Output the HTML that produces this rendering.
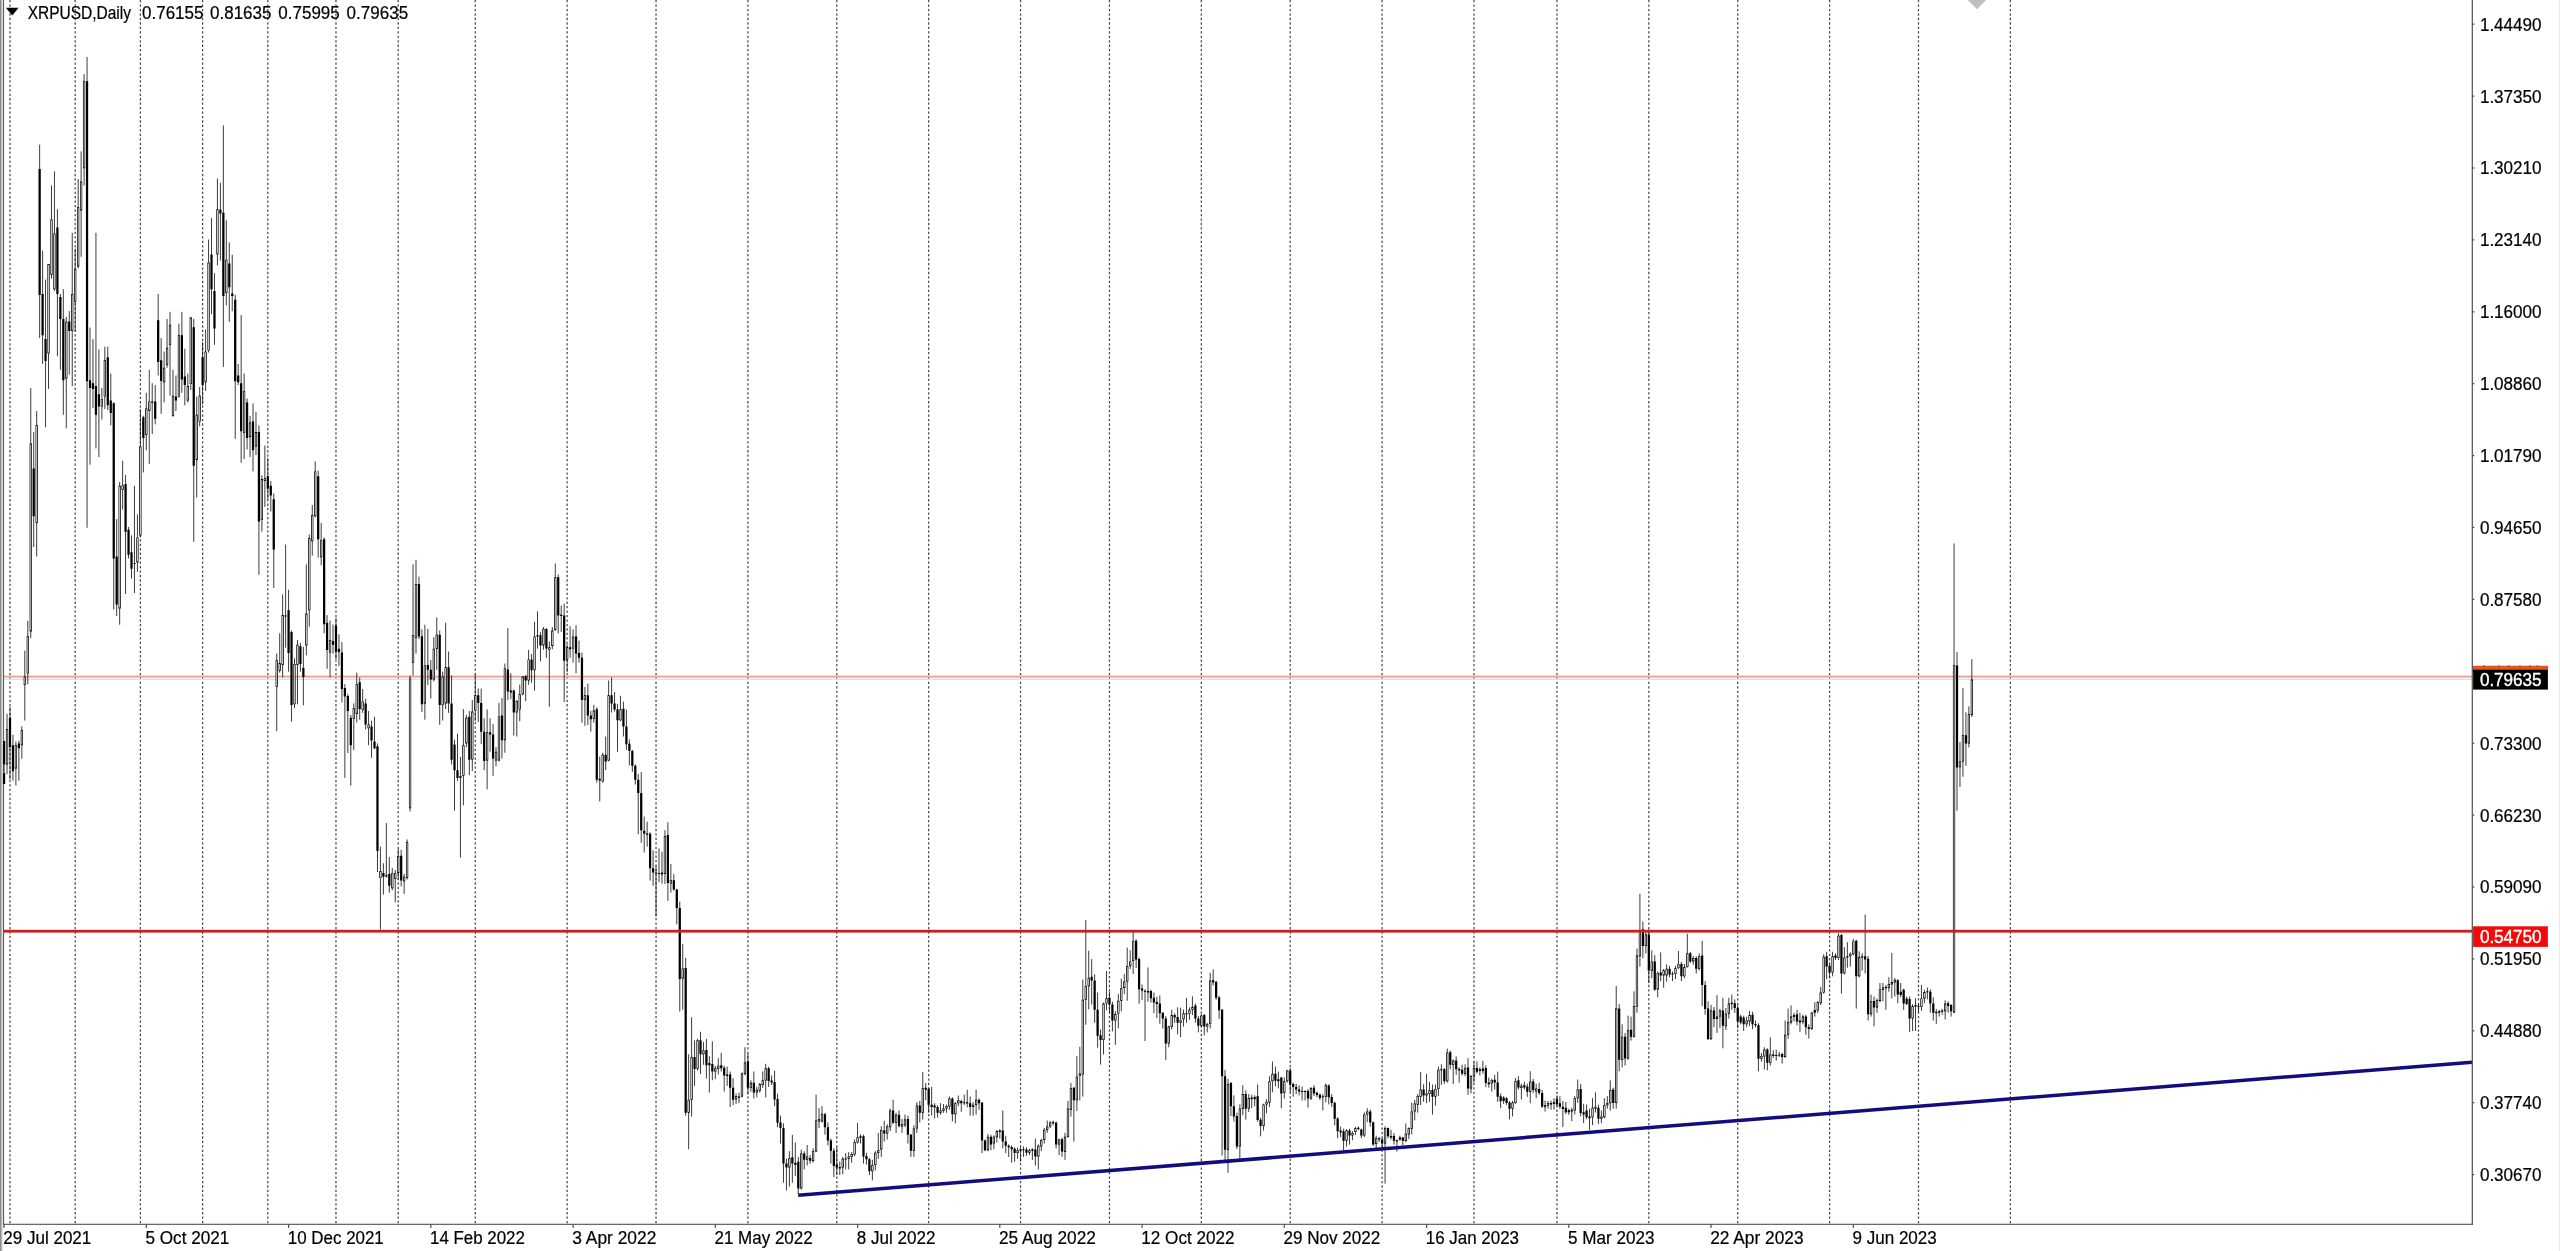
<!DOCTYPE html><html><head><meta charset="utf-8"><title>XRPUSD,Daily</title><style>html,body{margin:0;padding:0;background:#fff;}body{width:2560px;height:1251px;overflow:hidden;font-family:"Liberation Sans",sans-serif;}svg{display:block;position:absolute;left:0;top:0;}text{font-family:"Liberation Sans",sans-serif;font-size:17.5px;fill:#000;stroke:#000;stroke-width:0.22px;}</style></head><body>
<svg width="2560" height="1251" viewBox="0 0 2560 1251">
<rect width="2560" height="1251" fill="#fff"/>
<rect x="0" y="0" width="1" height="1251" fill="#8c8c8c"/><rect x="1" y="0" width="1" height="1251" fill="#b8b8b8"/><rect x="2" y="0" width="1" height="1251" fill="#dfdfdf"/><rect x="3.0" y="0" width="1.0" height="1225" fill="#5e5e5e"/><rect x="4.0" y="0" width="0.5" height="1224" fill="#e4e4e4"/>
<rect x="2558.8" y="0" width="1.2" height="1251" fill="#ececec"/>
<path d="M10.0 0V1224.3M75.19 0V1224.3M140.39 0V1224.3M202.62 0V1224.3M267.82 0V1224.3M335.98 0V1224.3M398.22 0V1224.3M475.27 0V1224.3M567.13 0V1224.3M656.04 0V1224.3M747.91 0V1224.3M836.81 0V1224.3M928.68 0V1224.3M1020.55 0V1224.3M1109.46 0V1224.3M1201.32 0V1224.3M1290.23 0V1224.3M1382.1 0V1224.3M1473.97 0V1224.3M1556.94 0V1224.3M1648.81 0V1224.3M1737.72 0V1224.3M1829.59 0V1224.3M1918.49 0V1224.3M2010.36 0V1224.3" stroke="#484848" stroke-width="1.25" stroke-dasharray="2.3 2.156" stroke-dashoffset="-0.05" fill="none"/>
<rect x="4" y="675.7" width="2468.3" height="1.8" fill="#e6a194"/>
<rect x="4" y="678.5" width="2468.3" height="1.6" fill="#dce4df"/>
<defs><filter id="sb" x="0" y="0" width="100%" height="100%" filterUnits="userSpaceOnUse"><feGaussianBlur stdDeviation="0.38"/></filter></defs>
<g filter="url(#sb)">
<path d="M4.07 740.9V784.1M7.03 713.9V774.1M10.00 707.2V779.4M12.96 734.8V780.8M15.92 741.5V785.6M18.89 740.6V780.8M21.85 726.4V758.8M24.81 650.6V720.6M27.78 620.9V684.2M30.74 388.0V638.1M33.70 432.1V547.0M36.67 411.0V556.6M39.63 144.6V338.1M42.60 250.6V364.0M45.56 279.6V427.3M48.52 264.1V388.9M51.49 185.4V278.6M54.45 171.4V291.1M57.41 209.2V356.3M60.38 294.0V369.8M63.34 289.2V414.8M66.30 317.0V428.3M69.27 311.2V374.6M72.23 232.8V386.1M75.19 248.7V331.4M78.16 179.1V268.3M81.12 151.3V256.8M84.08 74.1V185.4M87.05 56.9V527.8M90.01 327.6V464.7M92.97 339.1V408.1M95.94 232.8V448.4M98.90 349.6V457.1M101.87 388.0V419.6M104.83 346.7V409.1M107.79 346.7V410.0M110.76 373.6V425.4M113.72 402.4V609.4M116.68 519.2V616.1M119.65 482.0V624.7M122.61 460.9V509.6M125.57 474.9V594.0M128.54 526.9V558.5M131.50 535.5V578.7M134.46 485.8V593.0M137.43 514.4V571.9M140.39 409.1V537.4M143.35 415.8V472.4M146.32 392.8V450.3M149.28 369.8V463.8M152.24 383.2V434.0M155.21 385.1V424.4M158.17 294.0V375.5M161.14 338.1V413.9M164.10 351.5V402.4M167.06 318.9V367.8M170.03 311.8V395.7M172.99 369.8V416.8M175.95 375.5V411.0M178.92 323.7V397.6M181.88 311.8V392.8M184.84 348.7V405.3M187.81 373.6V402.4M190.77 317.0V389.9M193.73 318.9V541.8M196.70 396.6V497.3M199.66 387.0V426.4M202.62 341.9V404.3M205.59 329.5V390.9M208.55 239.5V352.5M211.51 218.0V314.1M214.48 273.1V344.8M217.44 178.5V265.4M220.41 182.9V260.6M223.37 125.4V366.9M226.33 220.3V305.5M229.30 242.4V321.8M232.26 254.9V311.2M235.22 294.9V438.8M238.19 364.0V385.1M241.15 315.1V462.8M244.11 373.6V459.0M247.08 398.5V449.4M250.04 415.8V457.1M253.00 403.3V471.4M255.97 412.0V455.1M258.93 425.4V574.8M261.89 475.3V531.7M264.86 445.5V506.9M267.82 458.0V499.3M270.78 481.0V511.5M273.75 493.5V587.9M276.71 653.5V731.2M279.68 633.3V672.7M282.64 594.4V677.5M285.60 544.5V647.7M288.57 589.8V671.7M291.53 630.5V721.6M294.49 658.3V708.2M297.46 640.0V704.3M300.42 642.9V671.7M303.38 646.8V705.3M306.35 564.3V655.4M309.31 534.5V626.6M312.27 505.0V555.6M315.24 461.5V517.3M318.20 470.5V557.6M321.16 523.0V565.2M324.13 537.4V633.3M327.09 615.1V668.8M330.05 620.5V677.5M333.02 624.7V653.5M335.98 618.0V659.2M338.95 634.3V665.9M341.91 642.0V702.4M344.87 684.2V778.0M347.84 693.8V753.0M350.80 714.9V785.6M353.76 703.4V750.1M356.73 672.7V722.5M359.69 677.5V719.7M362.65 689.0V712.9M365.62 698.6V729.3M368.58 711.0V745.3M371.54 720.6V757.8M374.51 716.8V749.2M377.47 743.4V872.0M380.43 846.6V929.5M383.40 863.3V894.6M386.36 823.0V877.7M389.32 857.0V892.7M392.29 868.1V890.2M395.25 870.0V902.3M398.22 848.9V879.6M401.18 849.9V886.4M404.14 873.9V894.0M407.11 839.4V879.6M410.07 675.5V811.5M413.03 564.3V675.5M416.00 559.9V653.5M418.96 576.7V639.1M421.92 629.5V712.0M424.89 624.7V719.7M427.85 628.9V685.1M430.81 660.2V698.6M433.78 637.2V681.3M436.74 617.4V669.8M439.70 630.5V724.8M442.67 671.7V720.6M445.63 622.8V709.1M448.59 651.6V712.9M451.56 675.5V764.5M454.52 739.6V810.6M457.49 733.7V780.8M460.45 756.9V857.6M463.41 709.1V805.2M466.38 714.9V747.3M469.34 711.0V775.1M472.30 700.0V771.0M475.27 674.1V721.2M478.23 688.5V722.1M481.19 688.5V744.2M484.16 718.3V770.1M487.12 709.6V789.3M490.08 718.3V751.8M493.05 724.0V775.8M496.01 747.1V766.2M498.97 702.9V761.4M501.94 698.1V758.6M504.90 663.6V752.8M507.86 628.1V700.0M510.83 673.2V699.1M513.79 689.5V735.5M516.76 700.0V736.5M519.72 684.7V721.2M522.68 676.1V695.3M525.65 675.1V701.0M528.61 649.8V684.7M531.57 654.0V682.8M534.54 621.8V690.5M537.50 611.4V648.6M540.46 631.9V661.3M543.43 627.1V649.8M546.39 628.1V657.8M549.35 641.5V706.8M552.32 627.1V649.2M555.28 563.5V631.0M558.24 574.4V633.3M561.21 605.7V631.9M564.17 603.7V702.0M567.13 644.4V672.2M570.10 626.2V657.8M573.06 629.4V662.6M576.03 625.2V673.2M578.99 640.6V662.6M581.95 652.5V722.7M584.92 687.0V725.9M587.88 683.7V725.0M590.84 710.6V731.7M593.81 704.8V722.7M596.77 707.3V782.5M599.73 756.6V801.5M602.70 752.8V782.5M605.66 736.5V770.1M608.62 680.5V761.4M611.59 677.4V712.5M614.55 692.0V711.6M617.51 703.9V751.8M620.48 695.8V721.2M623.44 701.6V736.5M626.40 709.6V749.9M629.37 739.4V765.3M632.33 749.9V772.0M635.30 764.3V784.5M638.26 773.9V834.1M641.22 772.0V842.8M644.19 816.5V852.4M647.15 821.7V846.6M650.11 832.2V880.6M653.08 850.4V885.9M656.04 865.8V916.6M659.00 848.5V882.1M661.97 851.8V883.6M664.93 830.3V884.0M667.89 822.2V900.9M670.86 863.9V892.6M673.82 874.0V890.7M676.78 888.8V924.3M679.75 901.7V1011.6M682.71 943.9V1009.7M685.67 957.9V1115.7M688.64 1054.3V1149.2M691.60 1017.3V1116.6M694.57 1040.3V1085.9M697.53 1038.9V1070.6M700.49 1031.8V1074.0M703.46 1041.8V1064.8M706.42 1038.9V1078.6M709.38 1056.2V1092.6M712.35 1041.4V1080.2M715.31 1065.8V1079.2M718.27 1058.1V1074.4M721.24 1052.9V1071.5M724.20 1065.8V1091.7M727.16 1066.7V1085.9M730.13 1071.5V1107.0M733.09 1078.2V1105.1M736.05 1093.6V1104.1M739.02 1092.6V1103.2M741.98 1072.5V1097.4M744.95 1047.2V1075.4M747.91 1053.3V1094.6M750.87 1080.2V1091.7M753.84 1071.5V1098.4M756.80 1086.9V1097.4M759.76 1083.0V1092.6M762.73 1071.5V1087.8M765.69 1063.9V1097.4M768.65 1066.7V1086.9M771.62 1075.4V1085.0M774.58 1070.6V1106.1M777.54 1093.6V1127.2M780.51 1115.7V1143.5M783.47 1123.3V1182.8M786.43 1158.8V1190.5M789.40 1151.2V1186.6M792.36 1134.8V1182.8M795.32 1142.5V1176.1M798.29 1156.9V1194.3M801.25 1149.6V1189.5M804.22 1151.2V1169.4M807.18 1145.0V1165.5M810.14 1155.0V1163.6M813.11 1148.3V1162.7M816.07 1094.6V1152.1M819.03 1108.0V1128.1M822.00 1106.1V1122.4M824.96 1112.8V1134.8M827.92 1122.4V1145.4M830.89 1138.7V1163.6M833.85 1148.3V1177.1M836.81 1146.9V1175.1M839.78 1161.7V1175.1M842.74 1156.9V1174.2M845.70 1153.1V1169.4M848.67 1152.1V1169.4M851.63 1152.1V1162.7M854.59 1139.6V1155.9M857.56 1122.8V1143.5M860.52 1134.3V1143.5M863.49 1134.8V1163.6M866.45 1152.7V1164.6M869.41 1157.9V1175.1M872.38 1159.8V1180.3M875.34 1151.2V1170.3M878.30 1132.9V1158.8M881.27 1126.2V1156.9M884.23 1120.8V1141.6M887.19 1124.3V1139.6M890.16 1108.6V1131.0M893.12 1099.7V1124.3M896.08 1112.8V1132.9M899.05 1110.5V1127.2M902.01 1118.9V1132.9M904.97 1114.7V1127.2M907.94 1115.7V1143.5M910.90 1133.9V1156.9M913.86 1125.3V1156.9M916.83 1102.2V1132.9M919.79 1100.9V1122.4M922.75 1072.1V1119.5M925.72 1083.0V1100.3M928.68 1087.8V1112.8M931.65 1086.9V1115.7M934.61 1103.2V1118.5M937.57 1105.1V1117.6M940.54 1103.2V1114.7M943.50 1104.1V1112.8M946.46 1104.7V1112.8M949.43 1096.5V1109.9M952.39 1097.4V1121.4M955.35 1102.2V1123.3M958.32 1095.5V1106.1M961.28 1099.7V1111.8M964.24 1094.6V1105.1M967.21 1089.8V1107.4M970.17 1096.5V1115.7M973.13 1102.2V1115.7M976.10 1089.8V1114.7M979.06 1098.4V1109.9M982.02 1102.2V1153.1M984.99 1139.6V1151.2M987.95 1133.9V1151.2M990.92 1134.8V1150.2M993.88 1135.4V1149.2M996.84 1130.0V1142.5M999.81 1129.1V1138.7M1002.77 1110.5V1148.3M1005.73 1135.8V1153.1M1008.70 1144.4V1156.9M1011.66 1145.4V1162.7M1014.62 1147.3V1161.7M1017.59 1147.7V1158.8M1020.55 1147.3V1161.7M1023.51 1146.4V1156.9M1026.48 1147.3V1155.9M1029.44 1148.8V1155.0M1032.40 1148.3V1159.8M1035.37 1138.7V1165.5M1038.33 1144.4V1169.4M1041.29 1138.7V1151.2M1044.26 1128.1V1143.5M1047.22 1120.5V1132.9M1050.19 1120.8V1128.1M1053.15 1120.5V1125.3M1056.11 1121.4V1148.3M1059.08 1138.7V1155.0M1062.04 1137.7V1156.9M1065.00 1132.9V1159.8M1067.97 1100.9V1137.7M1070.93 1083.0V1116.6M1073.89 1086.9V1141.6M1076.86 1056.2V1110.9M1079.82 1046.8V1100.5M1082.78 979.6V1096.6M1085.75 920.1V1024.7M1088.71 950.8V1009.4M1091.67 959.1V1004.6M1094.64 974.4V1022.8M1097.60 992.5V1047.7M1100.56 1029.5V1064.6M1103.53 1002.6V1054.4M1106.49 971.0V1010.3M1109.46 991.7V1013.2M1112.42 1001.7V1031.4M1115.38 1011.3V1044.8M1118.35 994.0V1028.5M1121.31 978.7V1011.3M1124.27 973.9V994.0M1127.24 947.6V1000.7M1130.20 950.3V969.1M1133.16 931.7V973.9M1136.13 939.3V968.1M1139.09 957.6V1003.6M1142.05 984.4V999.8M1145.02 989.2V1041.0M1147.98 967.5V1001.7M1150.94 989.8V1002.6M1153.91 992.5V1013.2M1156.87 996.9V1018.0M1159.83 995.5V1023.7M1162.80 1012.2V1028.5M1165.76 1016.1V1060.2M1168.73 1025.7V1047.3M1171.69 1009.7V1029.5M1174.65 1013.2V1022.8M1177.62 1007.4V1034.3M1180.58 1007.8V1037.2M1183.54 1009.4V1026.6M1186.51 997.8V1022.8M1189.47 1007.4V1019.9M1192.43 996.3V1015.1M1195.40 1003.6V1022.8M1198.36 1016.1V1032.4M1201.32 1014.1V1027.6M1204.29 1014.1V1035.3M1207.25 1022.8V1032.4M1210.21 972.9V1028.5M1213.18 969.4V985.4M1216.14 980.6V999.8M1219.10 995.9V1018.9M1222.07 1009.0V1155.5M1225.03 1069.8V1160.6M1228.00 1078.8V1172.8M1230.96 1082.0V1115.9M1233.92 1095.4V1121.6M1236.89 1112.7V1149.1M1239.85 1104.4V1158.7M1242.81 1085.2V1115.2M1245.78 1090.3V1119.7M1248.74 1094.1V1112.0M1251.70 1094.8V1108.2M1254.67 1095.4V1106.3M1257.63 1084.5V1121.6M1260.59 1117.8V1136.3M1263.56 1103.7V1130.6M1266.52 1099.2V1113.3M1269.48 1076.2V1106.9M1272.45 1061.5V1092.2M1275.41 1066.6V1086.5M1278.37 1071.7V1088.4M1281.34 1076.9V1108.2M1284.30 1077.5V1098.6M1287.27 1069.8V1082.6M1290.23 1067.9V1092.2M1293.19 1082.6V1096.7M1296.16 1083.9V1094.1M1299.12 1085.2V1095.4M1302.08 1086.5V1100.5M1305.05 1090.3V1100.5M1308.01 1089.0V1107.6M1310.97 1087.1V1099.9M1313.94 1085.2V1096.0M1316.90 1091.6V1097.1M1319.86 1093.5V1099.9M1322.83 1094.1V1110.4M1325.79 1083.5V1102.4M1328.75 1084.3V1104.4M1331.72 1094.1V1106.9M1334.68 1101.8V1125.5M1337.64 1117.1V1138.2M1340.61 1126.7V1137.0M1343.57 1128.7V1150.4M1346.54 1129.3V1146.6M1349.50 1128.7V1144.6M1352.46 1131.2V1140.2M1355.43 1126.7V1135.1M1358.39 1126.5V1130.3M1361.35 1128.7V1138.2M1364.32 1112.4V1137.0M1367.28 1108.2V1122.3M1370.24 1109.5V1126.7M1373.21 1121.6V1145.9M1376.17 1135.7V1149.1M1379.13 1137.0V1142.1M1382.10 1138.2V1147.2M1385.06 1126.1V1183.7M1388.02 1127.4V1138.2M1390.99 1129.9V1139.5M1393.95 1133.1V1144.6M1396.91 1139.5V1151.7M1399.88 1135.7V1140.8M1402.84 1137.0V1145.3M1405.81 1123.5V1142.1M1408.77 1127.4V1138.9M1411.73 1102.7V1134.4M1414.70 1099.9V1120.3M1417.66 1094.1V1112.7M1420.62 1072.0V1105.0M1423.59 1084.3V1101.8M1426.55 1074.0V1103.1M1429.51 1082.0V1101.8M1432.48 1084.5V1114.6M1435.44 1084.5V1105.6M1438.40 1066.6V1096.0M1441.37 1064.3V1084.8M1444.33 1067.9V1083.9M1447.29 1048.7V1082.6M1450.26 1050.6V1069.2M1453.22 1059.6V1083.9M1456.18 1056.4V1074.9M1459.15 1067.3V1082.6M1462.11 1064.7V1075.6M1465.08 1064.3V1076.2M1468.04 1058.3V1094.8M1471.00 1074.9V1093.5M1473.97 1062.2V1082.6M1476.93 1061.3V1073.7M1479.89 1067.3V1075.6M1482.86 1060.9V1073.7M1485.82 1065.3V1087.1M1488.78 1077.5V1087.7M1491.75 1078.8V1091.6M1494.71 1074.9V1089.6M1497.67 1071.7V1101.8M1500.64 1093.5V1108.2M1503.60 1096.2V1103.9M1506.56 1097.2V1104.9M1509.53 1101.0V1119.3M1512.49 1101.0V1116.4M1515.45 1078.0V1103.9M1518.42 1076.1V1089.5M1521.38 1083.8V1099.5M1524.35 1081.8V1089.5M1527.31 1083.8V1096.8M1530.27 1071.3V1103.3M1533.24 1079.0V1093.0M1536.20 1083.8V1098.2M1539.16 1082.8V1094.9M1542.13 1089.9V1107.7M1545.09 1100.6V1111.6M1548.05 1101.0V1108.7M1551.02 1100.6V1109.7M1553.98 1098.2V1109.7M1556.94 1095.3V1106.8M1559.91 1096.2V1108.7M1562.87 1101.0V1126.9M1565.83 1102.0V1114.1M1568.80 1108.7V1114.8M1571.76 1107.7V1121.2M1574.72 1096.2V1114.5M1577.69 1079.5V1102.9M1580.65 1083.8V1116.4M1583.62 1103.9V1123.1M1586.58 1104.5V1119.3M1589.54 1108.7V1129.8M1592.51 1098.2V1125.0M1595.47 1092.4V1112.5M1598.43 1104.5V1124.1M1601.40 1110.6V1123.1M1604.36 1098.2V1118.3M1607.32 1096.2V1108.7M1610.29 1080.3V1110.6M1613.25 1087.6V1108.7M1616.21 985.9V1108.7M1619.18 1004.1V1071.3M1622.14 1024.3V1067.5M1625.10 1032.9V1065.5M1628.07 1015.7V1059.8M1631.03 1016.6V1040.6M1633.99 991.3V1037.7M1636.96 948.5V1012.8M1639.92 893.8V966.7M1642.89 921.7V958.1M1645.85 931.2V953.3M1648.81 929.3V983.0M1651.78 950.4V978.2M1654.74 955.2V990.7M1657.70 971.5V997.4M1660.67 952.4V981.1M1663.63 969.0V987.8M1666.59 964.4V981.7M1669.56 965.8V977.3M1672.52 971.5V981.1M1675.48 965.8V979.2M1678.45 951.0V968.7M1681.41 961.9V981.1M1684.37 963.9V978.2M1687.34 933.7V967.7M1690.30 951.8V962.9M1693.26 956.2V964.8M1696.23 956.2V973.5M1699.19 953.3V970.6M1702.16 940.8V1006.1M1705.12 981.1V1014.7M1708.08 1001.3V1039.6M1711.05 1004.7V1039.6M1714.01 1007.0V1027.2M1716.97 995.1V1032.9M1719.94 1008.9V1028.1M1722.90 997.8V1048.3M1725.86 1008.0V1030.0M1728.83 997.8V1018.5M1731.79 994.6V1009.9M1734.75 999.4V1012.8M1737.72 1005.1V1028.1M1740.68 1014.7V1024.3M1743.64 1015.7V1031.0M1746.61 1016.6V1027.2M1749.57 1010.9V1026.2M1752.53 1011.8V1029.1M1755.50 1020.5V1027.2M1758.46 1023.3V1071.3M1761.43 1053.1V1061.7M1764.39 1047.3V1069.4M1767.35 1048.3V1070.3M1770.32 1037.3V1065.5M1773.28 1050.2V1057.9M1776.24 1049.6V1060.7M1779.21 1052.1V1056.9M1782.17 1052.7V1063.6M1785.13 1020.5V1057.9M1788.10 1008.6V1038.7M1791.06 1005.5V1024.3M1794.02 1012.8V1021.4M1796.99 1009.9V1025.3M1799.95 1012.8V1032.0M1802.91 1014.7V1024.3M1805.88 1014.7V1034.8M1808.84 1024.3V1038.7M1811.80 1011.8V1030.0M1814.77 1002.2V1016.6M1817.73 1000.9V1012.8M1820.70 986.9V1005.1M1823.66 954.3V993.6M1826.62 951.8V979.2M1829.59 962.9V978.2M1832.55 951.8V976.3M1835.51 953.3V960.0M1838.48 933.2V960.0M1841.44 934.1V993.6M1844.40 947.2V974.4M1847.37 942.2V967.7M1850.33 952.4V966.7M1853.29 938.9V955.2M1856.26 939.9V1008.6M1859.22 951.4V977.3M1862.18 953.3V970.6M1865.15 914.6V973.5M1868.11 956.2V1020.5M1871.07 994.6V1016.6M1874.04 996.5V1026.2M1877.00 998.4V1012.8M1879.97 983.0V1002.2M1882.93 983.0V1001.3M1885.89 985.0V1009.9M1888.86 977.3V991.7M1891.82 952.9V998.4M1894.78 978.2V996.5M1897.75 979.2V1003.2M1900.71 983.0V997.4M1903.67 988.8V1009.9M1906.64 996.5V1005.1M1909.60 996.5V1032.0M1912.56 1004.1V1031.0M1915.53 998.4V1031.0M1918.49 1004.1V1012.8M1921.45 985.0V1010.9M1924.42 989.8V1003.2M1927.38 987.5V999.4M1930.34 989.4V1012.8M1933.31 997.4V1020.5M1936.27 1008.9V1023.9M1939.24 1009.9V1016.6M1942.20 1008.9V1014.7M1945.16 1000.3V1019.5M1948.13 1001.3V1012.8M1951.09 1004.1V1016.6M1954.05 543.4V1013.2M1957.02 652.0V810.7M1959.98 742.1V787.0M1962.94 688.2V776.8M1965.91 712.2V765.9M1968.87 706.4V747.5M1971.83 659.2V717.0" stroke="#1a1a1a" stroke-width="0.85" fill="none"/>
<path d="M2.95 740.9h2.24V764.3h-2.24zM8.88 717.7h2.24V747.3h-2.24zM11.84 745.3h2.24V771.2h-2.24zM17.77 743.4h2.24V748.2h-2.24zM32.59 468.6h2.24V516.3h-2.24zM38.51 168.9h2.24V294.9h-2.24zM41.48 294.0h2.24V335.2h-2.24zM44.44 339.1h2.24V361.1h-2.24zM56.29 227.6h2.24V294.0h-2.24zM59.26 296.9h2.24V318.9h-2.24zM62.22 318.9h2.24V380.3h-2.24zM68.15 321.4h2.24V331.0h-2.24zM85.93 81.2h2.24V381.3h-2.24zM88.89 380.3h2.24V388.0h-2.24zM91.85 383.2h2.24V388.9h-2.24zM94.82 386.1h2.24V414.8h-2.24zM97.78 394.3h2.24V406.6h-2.24zM106.67 357.3h2.24V405.3h-2.24zM109.64 400.5h2.24V412.9h-2.24zM112.60 403.3h2.24V558.5h-2.24zM115.56 556.6h2.24V604.6h-2.24zM124.45 483.9h2.24V531.7h-2.24zM127.42 529.7h2.24V554.7h-2.24zM130.38 552.2h2.24V568.7h-2.24zM133.34 562.9h2.24V564.1h-2.24zM142.23 417.3h2.24V437.9h-2.24zM154.09 401.4h2.24V418.7h-2.24zM157.05 320.3h2.24V362.1h-2.24zM160.02 360.2h2.24V380.9h-2.24zM174.83 396.6h2.24V400.5h-2.24zM180.76 335.2h2.24V379.4h-2.24zM183.72 376.5h2.24V385.1h-2.24zM192.61 327.2h2.24V465.7h-2.24zM201.50 357.3h2.24V385.1h-2.24zM210.39 254.5h2.24V289.2h-2.24zM213.36 291.1h2.24V328.5h-2.24zM219.29 209.8h2.24V213.6h-2.24zM222.25 212.7h2.24V295.9h-2.24zM228.18 263.5h2.24V287.3h-2.24zM231.14 293.4h2.24V295.9h-2.24zM234.10 299.7h2.24V381.3h-2.24zM237.07 375.5h2.24V382.2h-2.24zM240.03 383.2h2.24V431.2h-2.24zM245.96 402.4h2.24V437.9h-2.24zM251.88 421.6h2.24V450.3h-2.24zM257.81 432.1h2.24V521.5h-2.24zM266.70 476.2h2.24V488.7h-2.24zM269.66 485.8h2.24V495.4h-2.24zM272.63 499.3h2.24V549.5h-2.24zM284.48 615.5h2.24V616.6h-2.24zM287.45 610.3h2.24V653.1h-2.24zM290.41 632.0h2.24V704.9h-2.24zM299.30 646.2h2.24V664.0h-2.24zM302.26 667.9h2.24V676.9h-2.24zM317.08 476.2h2.24V539.3h-2.24zM323.01 539.3h2.24V624.3h-2.24zM325.97 622.8h2.24V650.0h-2.24zM331.90 641.0h2.24V644.8h-2.24zM334.86 625.7h2.24V651.6h-2.24zM337.83 648.7h2.24V651.9h-2.24zM340.79 652.5h2.24V689.0h-2.24zM343.75 688.0h2.24V696.6h-2.24zM346.72 696.1h2.24V711.0h-2.24zM349.68 717.7h2.24V745.3h-2.24zM358.57 682.3h2.24V709.1h-2.24zM364.50 703.4h2.24V724.5h-2.24zM370.42 726.4h2.24V740.6h-2.24zM373.39 741.5h2.24V748.2h-2.24zM376.35 746.3h2.24V850.9h-2.24zM382.28 872.9h2.24V876.8h-2.24zM385.24 875.2h2.24V876.4h-2.24zM388.20 873.9h2.24V885.8h-2.24zM400.06 855.7h2.24V880.6h-2.24zM417.84 584.0h2.24V636.6h-2.24zM420.80 636.2h2.24V704.3h-2.24zM426.73 665.0h2.24V669.8h-2.24zM429.69 669.8h2.24V679.4h-2.24zM438.58 634.7h2.24V704.9h-2.24zM447.47 667.3h2.24V703.4h-2.24zM450.44 703.4h2.24V759.7h-2.24zM453.40 744.4h2.24V770.3h-2.24zM456.37 770.3h2.24V778.0h-2.24zM468.22 716.8h2.24V759.7h-2.24zM477.11 695.3h2.24V702.9h-2.24zM480.07 702.9h2.24V731.7h-2.24zM483.04 731.7h2.24V761.1h-2.24zM488.96 732.3h2.24V734.6h-2.24zM491.93 734.6h2.24V758.6h-2.24zM500.82 715.4h2.24V740.3h-2.24zM506.74 669.4h2.24V691.4h-2.24zM509.71 690.5h2.24V692.4h-2.24zM512.67 690.5h2.24V712.5h-2.24zM524.53 676.1h2.24V680.5h-2.24zM530.45 659.4h2.24V670.3h-2.24zM536.38 635.2h2.24V636.4h-2.24zM539.34 635.2h2.24V645.4h-2.24zM545.27 629.1h2.24V648.6h-2.24zM557.12 577.3h2.24V615.6h-2.24zM560.09 614.7h2.24V616.0h-2.24zM563.05 615.6h2.24V660.7h-2.24zM568.98 647.3h2.24V649.2h-2.24zM574.91 636.4h2.24V653.6h-2.24zM577.87 653.0h2.24V657.8h-2.24zM580.83 657.8h2.24V700.0h-2.24zM586.76 695.3h2.24V715.4h-2.24zM589.72 715.4h2.24V719.2h-2.24zM595.65 709.3h2.24V779.7h-2.24zM598.61 778.7h2.24V780.6h-2.24zM604.54 754.7h2.24V761.4h-2.24zM610.47 695.3h2.24V703.5h-2.24zM613.43 703.5h2.24V709.6h-2.24zM616.39 709.6h2.24V720.2h-2.24zM622.32 708.7h2.24V726.5h-2.24zM625.28 726.5h2.24V744.2h-2.24zM628.25 743.8h2.24V750.9h-2.24zM631.21 750.9h2.24V765.7h-2.24zM634.18 765.7h2.24V779.7h-2.24zM637.14 779.7h2.24V792.9h-2.24zM640.10 793.1h2.24V830.3h-2.24zM643.07 830.7h2.24V833.7h-2.24zM646.03 833.5h2.24V834.7h-2.24zM648.99 833.7h2.24V868.3h-2.24zM651.96 868.3h2.24V872.5h-2.24zM654.92 872.5h2.24V873.6h-2.24zM657.88 872.9h2.24V874.0h-2.24zM660.85 872.5h2.24V874.4h-2.24zM666.77 835.1h2.24V883.0h-2.24zM672.70 880.2h2.24V889.4h-2.24zM675.66 889.4h2.24V908.0h-2.24zM678.63 908.0h2.24V979.0h-2.24zM684.55 968.0h2.24V1112.8h-2.24zM693.45 1057.1h2.24V1069.0h-2.24zM699.37 1040.3h2.24V1054.3h-2.24zM705.30 1049.9h2.24V1065.2h-2.24zM708.26 1062.9h2.24V1065.2h-2.24zM711.23 1063.9h2.24V1071.5h-2.24zM720.12 1065.2h2.24V1068.3h-2.24zM723.08 1067.7h2.24V1075.4h-2.24zM726.04 1074.4h2.24V1075.9h-2.24zM729.01 1074.4h2.24V1087.8h-2.24zM731.97 1087.8h2.24V1099.7h-2.24zM737.90 1096.5h2.24V1097.8h-2.24zM746.79 1061.4h2.24V1087.8h-2.24zM752.72 1082.7h2.24V1092.6h-2.24zM767.53 1068.3h2.24V1081.1h-2.24zM770.50 1080.6h2.24V1082.5h-2.24zM773.46 1082.1h2.24V1099.4h-2.24zM776.42 1099.0h2.24V1122.8h-2.24zM779.39 1122.4h2.24V1128.1h-2.24zM782.35 1128.1h2.24V1163.6h-2.24zM785.31 1163.6h2.24V1167.5h-2.24zM791.24 1157.3h2.24V1163.6h-2.24zM794.20 1162.7h2.24V1165.0h-2.24zM797.17 1161.7h2.24V1188.6h-2.24zM803.10 1153.5h2.24V1159.8h-2.24zM809.02 1157.9h2.24V1160.7h-2.24zM823.84 1114.3h2.24V1127.2h-2.24zM826.80 1127.2h2.24V1140.6h-2.24zM829.77 1140.6h2.24V1150.8h-2.24zM832.73 1150.8h2.24V1166.1h-2.24zM835.69 1164.6h2.24V1167.5h-2.24zM844.58 1158.4h2.24V1159.4h-2.24zM862.37 1136.2h2.24V1156.5h-2.24zM865.33 1155.9h2.24V1159.2h-2.24zM868.29 1159.2h2.24V1171.3h-2.24zM883.11 1130.4h2.24V1133.5h-2.24zM892.00 1110.5h2.24V1122.8h-2.24zM897.93 1114.7h2.24V1126.2h-2.24zM906.82 1118.9h2.24V1134.8h-2.24zM909.78 1134.8h2.24V1150.8h-2.24zM918.67 1105.5h2.24V1112.8h-2.24zM924.60 1087.8h2.24V1089.8h-2.24zM927.56 1088.8h2.24V1104.7h-2.24zM930.53 1104.7h2.24V1107.0h-2.24zM933.49 1105.5h2.24V1107.4h-2.24zM936.45 1107.0h2.24V1112.8h-2.24zM951.27 1098.4h2.24V1114.3h-2.24zM960.16 1100.9h2.24V1103.2h-2.24zM966.09 1102.2h2.24V1103.6h-2.24zM969.05 1103.2h2.24V1107.0h-2.24zM977.94 1099.7h2.24V1103.2h-2.24zM980.90 1102.8h2.24V1140.6h-2.24zM983.87 1140.6h2.24V1150.2h-2.24zM989.80 1136.8h2.24V1144.4h-2.24zM1001.65 1130.4h2.24V1141.6h-2.24zM1004.61 1141.6h2.24V1145.8h-2.24zM1007.58 1145.8h2.24V1147.3h-2.24zM1010.54 1146.9h2.24V1149.2h-2.24zM1013.50 1148.8h2.24V1153.1h-2.24zM1022.39 1149.2h2.24V1150.2h-2.24zM1025.36 1149.6h2.24V1152.7h-2.24zM1034.25 1149.6h2.24V1156.5h-2.24zM1054.99 1122.8h2.24V1144.4h-2.24zM1060.92 1139.3h2.24V1151.5h-2.24zM1072.77 1087.8h2.24V1100.3h-2.24zM1090.55 976.7h2.24V980.6h-2.24zM1093.52 980.6h2.24V1009.7h-2.24zM1096.48 1009.7h2.24V1035.8h-2.24zM1099.44 1035.3h2.24V1040.0h-2.24zM1108.34 997.8h2.24V1004.6h-2.24zM1111.30 1004.6h2.24V1020.5h-2.24zM1135.01 940.7h2.24V959.5h-2.24zM1137.97 959.1h2.24V989.2h-2.24zM1140.93 988.6h2.24V990.6h-2.24zM1143.90 990.7h2.24V991.7h-2.24zM1146.86 991.1h2.24V992.5h-2.24zM1149.82 991.1h2.24V998.2h-2.24zM1152.79 997.8h2.24V1002.6h-2.24zM1155.75 1002.1h2.24V1004.0h-2.24zM1158.71 1003.6h2.24V1013.2h-2.24zM1161.68 1012.8h2.24V1018.6h-2.24zM1164.64 1018.6h2.24V1043.5h-2.24zM1173.53 1015.1h2.24V1017.4h-2.24zM1176.50 1017.0h2.24V1022.8h-2.24zM1185.39 1013.2h2.24V1014.2h-2.24zM1194.28 1005.5h2.24V1018.6h-2.24zM1197.24 1018.6h2.24V1025.7h-2.24zM1203.17 1015.1h2.24V1026.6h-2.24zM1212.06 980.2h2.24V982.5h-2.24zM1215.02 982.1h2.24V997.8h-2.24zM1217.98 997.5h2.24V1010.3h-2.24zM1220.95 1009.7h2.24V1076.2h-2.24zM1223.91 1076.2h2.24V1149.8h-2.24zM1229.84 1083.0h2.24V1106.3h-2.24zM1232.80 1106.3h2.24V1116.5h-2.24zM1235.77 1115.9h2.24V1146.6h-2.24zM1244.66 1094.1h2.24V1108.8h-2.24zM1253.55 1097.1h2.24V1099.2h-2.24zM1256.51 1096.3h2.24V1120.1h-2.24zM1259.47 1119.7h2.24V1126.1h-2.24zM1274.29 1073.7h2.24V1080.7h-2.24zM1277.25 1079.2h2.24V1081.3h-2.24zM1280.22 1077.5h2.24V1093.5h-2.24zM1289.11 1070.5h2.24V1084.5h-2.24zM1292.07 1083.9h2.24V1087.1h-2.24zM1295.04 1087.1h2.24V1089.6h-2.24zM1298.00 1089.6h2.24V1091.6h-2.24zM1300.96 1091.1h2.24V1092.1h-2.24zM1303.93 1091.1h2.24V1092.1h-2.24zM1306.89 1090.9h2.24V1098.6h-2.24zM1312.82 1087.7h2.24V1093.5h-2.24zM1315.78 1092.8h2.24V1095.0h-2.24zM1318.74 1094.8h2.24V1098.0h-2.24zM1321.71 1096.2h2.24V1097.2h-2.24zM1327.63 1085.6h2.24V1097.3h-2.24zM1330.60 1097.1h2.24V1103.1h-2.24zM1333.56 1102.7h2.24V1118.8h-2.24zM1336.52 1118.4h2.24V1131.2h-2.24zM1339.49 1130.6h2.24V1132.5h-2.24zM1342.45 1131.2h2.24V1140.8h-2.24zM1348.38 1130.6h2.24V1135.4h-2.24zM1357.27 1127.8h2.24V1129.0h-2.24zM1360.23 1129.6h2.24V1135.4h-2.24zM1369.12 1111.4h2.24V1122.6h-2.24zM1372.09 1122.3h2.24V1144.6h-2.24zM1378.01 1138.2h2.24V1139.5h-2.24zM1380.98 1139.5h2.24V1143.4h-2.24zM1386.90 1128.0h2.24V1136.3h-2.24zM1389.87 1135.9h2.24V1137.6h-2.24zM1392.83 1135.9h2.24V1140.8h-2.24zM1395.79 1140.2h2.24V1141.4h-2.24zM1398.76 1137.6h2.24V1139.5h-2.24zM1401.72 1137.6h2.24V1140.8h-2.24zM1422.47 1089.6h2.24V1095.4h-2.24zM1431.36 1089.9h2.24V1096.7h-2.24zM1440.25 1069.3h2.24V1070.3h-2.24zM1443.21 1069.2h2.24V1081.3h-2.24zM1449.14 1052.3h2.24V1064.7h-2.24zM1455.07 1060.5h2.24V1069.2h-2.24zM1458.03 1068.9h2.24V1070.5h-2.24zM1460.99 1069.8h2.24V1073.7h-2.24zM1466.92 1067.6h2.24V1088.4h-2.24zM1475.81 1067.9h2.24V1071.7h-2.24zM1481.74 1068.5h2.24V1071.1h-2.24zM1484.70 1067.9h2.24V1083.0h-2.24zM1487.66 1082.6h2.24V1084.3h-2.24zM1493.59 1079.7h2.24V1082.6h-2.24zM1496.55 1082.6h2.24V1096.7h-2.24zM1499.52 1096.3h2.24V1101.2h-2.24zM1502.48 1097.6h2.24V1101.0h-2.24zM1505.44 1098.2h2.24V1102.9h-2.24zM1508.41 1102.6h2.24V1108.7h-2.24zM1517.30 1080.3h2.24V1087.6h-2.24zM1523.23 1085.3h2.24V1087.6h-2.24zM1526.19 1086.6h2.24V1091.8h-2.24zM1532.12 1081.5h2.24V1089.9h-2.24zM1538.04 1089.1h2.24V1093.0h-2.24zM1541.01 1093.0h2.24V1106.8h-2.24zM1549.90 1102.9h2.24V1104.5h-2.24zM1555.82 1098.7h2.24V1104.5h-2.24zM1558.79 1103.3h2.24V1106.8h-2.24zM1561.75 1106.8h2.24V1109.1h-2.24zM1564.71 1107.7h2.24V1112.2h-2.24zM1567.68 1110.2h2.24V1112.2h-2.24zM1579.53 1089.1h2.24V1112.9h-2.24zM1582.50 1112.2h2.24V1114.5h-2.24zM1585.46 1110.6h2.24V1117.3h-2.24zM1588.42 1116.4h2.24V1118.3h-2.24zM1597.31 1107.7h2.24V1118.7h-2.24zM1612.13 1089.5h2.24V1102.9h-2.24zM1618.06 1008.6h2.24V1059.8h-2.24zM1623.98 1036.8h2.24V1058.4h-2.24zM1629.91 1029.7h2.24V1036.8h-2.24zM1641.77 929.3h2.24V946.0h-2.24zM1647.69 934.5h2.24V970.6h-2.24zM1653.62 961.4h2.24V989.8h-2.24zM1659.55 972.5h2.24V975.4h-2.24zM1668.44 968.7h2.24V974.4h-2.24zM1671.40 973.5h2.24V974.6h-2.24zM1680.29 963.9h2.24V976.3h-2.24zM1689.18 953.3h2.24V961.4h-2.24zM1695.11 958.1h2.24V968.7h-2.24zM1701.04 955.6h2.24V985.0h-2.24zM1704.00 985.0h2.24V1008.9h-2.24zM1706.96 1008.6h2.24V1039.3h-2.24zM1712.89 1010.5h2.24V1018.9h-2.24zM1721.78 1010.5h2.24V1025.8h-2.24zM1733.63 1003.2h2.24V1008.0h-2.24zM1736.60 1008.0h2.24V1021.4h-2.24zM1739.56 1016.6h2.24V1022.4h-2.24zM1742.52 1017.6h2.24V1024.3h-2.24zM1751.41 1014.7h2.24V1024.3h-2.24zM1754.38 1023.9h2.24V1025.3h-2.24zM1757.34 1025.3h2.24V1058.8h-2.24zM1766.23 1049.6h2.24V1062.7h-2.24zM1772.16 1054.6h2.24V1055.9h-2.24zM1775.12 1055.0h2.24V1056.0h-2.24zM1778.09 1054.6h2.24V1055.6h-2.24zM1781.05 1054.0h2.24V1056.9h-2.24zM1795.87 1014.3h2.24V1021.4h-2.24zM1798.83 1020.5h2.24V1022.4h-2.24zM1804.76 1016.6h2.24V1027.2h-2.24zM1807.72 1027.2h2.24V1029.1h-2.24zM1813.65 1009.9h2.24V1012.8h-2.24zM1825.50 956.2h2.24V966.4h-2.24zM1828.47 965.8h2.24V972.5h-2.24zM1834.39 955.6h2.24V958.1h-2.24zM1840.32 935.1h2.24V973.5h-2.24zM1855.14 940.8h2.24V976.3h-2.24zM1864.03 956.2h2.24V959.4h-2.24zM1866.99 958.7h2.24V1014.3h-2.24zM1872.92 1000.9h2.24V1007.4h-2.24zM1884.77 986.9h2.24V988.2h-2.24zM1896.63 980.2h2.24V994.6h-2.24zM1899.59 991.7h2.24V995.1h-2.24zM1902.55 989.8h2.24V1003.6h-2.24zM1905.52 998.4h2.24V1004.1h-2.24zM1908.48 999.0h2.24V1018.5h-2.24zM1914.41 1005.1h2.24V1006.6h-2.24zM1917.37 1005.7h2.24V1006.7h-2.24zM1926.26 991.3h2.24V992.3h-2.24zM1929.22 991.7h2.24V1003.6h-2.24zM1932.19 1003.6h2.24V1012.8h-2.24zM1935.15 1011.8h2.24V1013.2h-2.24zM1947.01 1003.2h2.24V1006.1h-2.24zM1949.97 1005.1h2.24V1011.2h-2.24zM1955.90 665.6h2.24V767.5h-2.24zM1964.79 735.3h2.24V743.5h-2.24zM2.95 773.2h2.24V784h-2.24z" fill="#000"/>
<path d="M5.91 729.3h2.24V764.5h-2.24zM14.80 745.3h2.24V768.4h-2.24zM20.73 730.2h2.24V745.3h-2.24zM23.69 676.5h2.24V685.1h-2.24zM26.66 636.2h2.24V673.6h-2.24zM29.62 443.6h2.24V631.4h-2.24zM35.55 425.0h2.24V523.0h-2.24zM47.40 264.1h2.24V353.5h-2.24zM50.37 219.4h2.24V274.8h-2.24zM53.33 233.4h2.24V289.2h-2.24zM65.18 321.8h2.24V378.4h-2.24zM71.11 294.0h2.24V331.0h-2.24zM74.07 269.3h2.24V301.7h-2.24zM77.04 207.3h2.24V266.4h-2.24zM80.00 181.6h2.24V210.4h-2.24zM82.96 81.2h2.24V168.2h-2.24zM100.75 398.9h2.24V406.6h-2.24zM103.71 360.2h2.24V396.6h-2.24zM118.53 485.8h2.24V608.4h-2.24zM121.49 484.9h2.24V489.7h-2.24zM136.31 537.4h2.24V562.4h-2.24zM139.27 446.5h2.24V535.5h-2.24zM145.20 408.5h2.24V435.0h-2.24zM148.16 401.4h2.24V411.0h-2.24zM151.12 401.4h2.24V402.8h-2.24zM162.98 367.8h2.24V382.2h-2.24zM165.94 347.7h2.24V365.0h-2.24zM168.91 324.7h2.24V344.8h-2.24zM171.87 395.7h2.24V415.8h-2.24zM177.80 335.2h2.24V396.6h-2.24zM186.69 386.1h2.24V400.5h-2.24zM189.65 317.6h2.24V384.1h-2.24zM195.58 414.8h2.24V459.9h-2.24zM198.54 395.7h2.24V421.6h-2.24zM204.47 351.5h2.24V382.2h-2.24zM207.43 262.5h2.24V350.6h-2.24zM216.32 209.2h2.24V254.5h-2.24zM225.21 259.7h2.24V293.0h-2.24zM242.99 390.9h2.24V433.1h-2.24zM248.92 422.5h2.24V436.9h-2.24zM254.85 432.1h2.24V446.5h-2.24zM260.77 479.1h2.24V520.1h-2.24zM263.74 478.2h2.24V481.0h-2.24zM275.59 660.2h2.24V687.1h-2.24zM278.56 663.1h2.24V670.7h-2.24zM281.52 615.1h2.24V665.0h-2.24zM293.37 664.0h2.24V704.3h-2.24zM296.34 644.8h2.24V665.0h-2.24zM305.23 613.6h2.24V645.4h-2.24zM308.19 538.0h2.24V610.3h-2.24zM311.15 515.0h2.24V541.2h-2.24zM314.12 471.4h2.24V516.3h-2.24zM320.04 539.9h2.24V557.2h-2.24zM328.93 640.0h2.24V652.5h-2.24zM352.64 708.2h2.24V718.7h-2.24zM355.61 684.2h2.24V713.9h-2.24zM361.53 701.4h2.24V710.1h-2.24zM367.46 724.5h2.24V728.3h-2.24zM379.31 871.0h2.24V878.1h-2.24zM391.17 872.9h2.24V888.3h-2.24zM394.13 872.9h2.24V878.7h-2.24zM397.10 856.2h2.24V872.9h-2.24zM403.02 876.8h2.24V881.2h-2.24zM405.99 842.2h2.24V877.7h-2.24zM408.95 678.4h2.24V808.3h-2.24zM411.91 635.3h2.24V663.1h-2.24zM414.88 584.0h2.24V637.7h-2.24zM423.77 665.4h2.24V703.4h-2.24zM432.66 648.7h2.24V679.4h-2.24zM435.62 634.7h2.24V648.7h-2.24zM441.55 676.5h2.24V705.3h-2.24zM444.51 667.3h2.24V703.4h-2.24zM459.33 776.0h2.24V778.0h-2.24zM462.29 745.3h2.24V775.7h-2.24zM465.26 717.7h2.24V743.4h-2.24zM471.18 711.6h2.24V759.5h-2.24zM474.15 695.3h2.24V710.6h-2.24zM486.00 732.3h2.24V760.5h-2.24zM494.89 751.8h2.24V760.5h-2.24zM497.85 716.4h2.24V760.5h-2.24zM503.78 668.4h2.24V740.3h-2.24zM515.64 701.0h2.24V712.5h-2.24zM518.60 694.3h2.24V709.6h-2.24zM521.56 676.6h2.24V694.3h-2.24zM527.49 659.4h2.24V680.5h-2.24zM533.42 636.4h2.24V670.3h-2.24zM542.31 628.7h2.24V645.4h-2.24zM548.23 647.3h2.24V649.8h-2.24zM551.20 630.6h2.24V645.9h-2.24zM554.16 577.3h2.24V630.0h-2.24zM566.01 647.3h2.24V659.8h-2.24zM571.94 636.7h2.24V648.6h-2.24zM583.80 695.3h2.24V700.0h-2.24zM592.69 710.6h2.24V718.8h-2.24zM601.58 754.7h2.24V781.6h-2.24zM607.50 695.3h2.24V760.5h-2.24zM619.36 709.3h2.24V720.2h-2.24zM663.81 836.0h2.24V874.0h-2.24zM669.74 880.2h2.24V883.6h-2.24zM681.59 968.4h2.24V978.4h-2.24zM687.52 1099.7h2.24V1112.8h-2.24zM690.48 1057.1h2.24V1099.7h-2.24zM696.41 1040.3h2.24V1068.7h-2.24zM702.34 1050.4h2.24V1054.3h-2.24zM714.19 1068.3h2.24V1071.5h-2.24zM717.15 1065.8h2.24V1068.7h-2.24zM734.93 1095.9h2.24V1099.4h-2.24zM740.86 1073.5h2.24V1096.5h-2.24zM743.83 1062.5h2.24V1074.0h-2.24zM749.75 1082.7h2.24V1087.8h-2.24zM755.68 1089.8h2.24V1092.6h-2.24zM758.64 1084.0h2.24V1090.7h-2.24zM761.61 1080.2h2.24V1085.0h-2.24zM764.57 1068.3h2.24V1080.6h-2.24zM788.28 1157.9h2.24V1167.5h-2.24zM800.13 1153.5h2.24V1188.6h-2.24zM806.06 1156.5h2.24V1159.8h-2.24zM811.99 1151.2h2.24V1161.1h-2.24zM814.95 1120.5h2.24V1151.5h-2.24zM817.91 1118.9h2.24V1121.4h-2.24zM820.88 1113.7h2.24V1121.4h-2.24zM838.66 1166.9h2.24V1168.4h-2.24zM841.62 1158.8h2.24V1167.5h-2.24zM847.55 1156.5h2.24V1158.8h-2.24zM850.51 1154.0h2.24V1156.9h-2.24zM853.47 1141.9h2.24V1154.6h-2.24zM856.44 1137.3h2.24V1142.5h-2.24zM859.40 1136.2h2.24V1137.7h-2.24zM871.26 1165.0h2.24V1171.3h-2.24zM874.22 1152.7h2.24V1165.0h-2.24zM877.18 1150.2h2.24V1153.1h-2.24zM880.15 1130.0h2.24V1149.6h-2.24zM886.07 1126.6h2.24V1133.5h-2.24zM889.04 1110.5h2.24V1127.2h-2.24zM894.96 1114.7h2.24V1122.8h-2.24zM900.89 1124.3h2.24V1126.6h-2.24zM903.85 1119.5h2.24V1125.3h-2.24zM912.74 1128.5h2.24V1150.8h-2.24zM915.71 1105.5h2.24V1128.5h-2.24zM921.63 1088.2h2.24V1112.8h-2.24zM939.42 1110.5h2.24V1112.8h-2.24zM942.38 1108.6h2.24V1110.9h-2.24zM945.34 1106.1h2.24V1108.6h-2.24zM948.31 1098.4h2.24V1106.6h-2.24zM954.23 1103.2h2.24V1114.3h-2.24zM957.20 1100.3h2.24V1103.2h-2.24zM963.12 1102.2h2.24V1103.2h-2.24zM972.01 1104.7h2.24V1107.0h-2.24zM974.98 1099.7h2.24V1105.1h-2.24zM986.83 1136.8h2.24V1150.2h-2.24zM992.76 1136.8h2.24V1143.5h-2.24zM995.72 1131.0h2.24V1137.3h-2.24zM998.69 1130.4h2.24V1132.0h-2.24zM1016.47 1150.2h2.24V1153.1h-2.24zM1019.43 1149.2h2.24V1150.8h-2.24zM1028.32 1150.2h2.24V1152.7h-2.24zM1031.28 1149.2h2.24V1150.8h-2.24zM1037.21 1145.8h2.24V1156.5h-2.24zM1040.17 1140.0h2.24V1146.4h-2.24zM1043.14 1129.7h2.24V1140.0h-2.24zM1046.10 1126.6h2.24V1129.7h-2.24zM1049.07 1122.4h2.24V1126.6h-2.24zM1052.03 1122.0h2.24V1123.3h-2.24zM1057.96 1139.6h2.24V1144.4h-2.24zM1063.88 1136.8h2.24V1152.1h-2.24zM1066.85 1108.6h2.24V1136.8h-2.24zM1069.81 1088.2h2.24V1109.9h-2.24zM1075.74 1076.7h2.24V1100.3h-2.24zM1078.70 1073.6h2.24V1076.1h-2.24zM1081.66 999.8h2.24V1074.6h-2.24zM1084.63 986.3h2.24V999.8h-2.24zM1087.59 977.7h2.24V986.3h-2.24zM1102.41 1003.6h2.24V1040.0h-2.24zM1105.37 998.2h2.24V1003.6h-2.24zM1114.26 1014.1h2.24V1020.5h-2.24zM1117.23 1000.7h2.24V1013.6h-2.24zM1120.19 988.2h2.24V1000.7h-2.24zM1123.15 981.5h2.24V987.9h-2.24zM1126.12 966.2h2.24V981.5h-2.24zM1129.08 961.4h2.24V966.2h-2.24zM1132.04 941.2h2.24V961.0h-2.24zM1167.61 1026.6h2.24V1043.5h-2.24zM1170.57 1015.1h2.24V1027.0h-2.24zM1179.46 1019.9h2.24V1022.8h-2.24zM1182.42 1013.2h2.24V1019.3h-2.24zM1188.35 1009.7h2.24V1013.6h-2.24zM1191.31 1007.1h2.24V1009.7h-2.24zM1200.20 1015.5h2.24V1025.7h-2.24zM1206.13 1024.3h2.24V1026.6h-2.24zM1209.09 980.6h2.24V1023.7h-2.24zM1226.88 1083.9h2.24V1149.8h-2.24zM1238.73 1108.8h2.24V1146.6h-2.24zM1241.69 1094.1h2.24V1109.1h-2.24zM1247.62 1098.0h2.24V1108.6h-2.24zM1250.58 1097.6h2.24V1099.2h-2.24zM1262.44 1104.4h2.24V1126.1h-2.24zM1265.40 1101.8h2.24V1104.4h-2.24zM1268.36 1081.3h2.24V1102.4h-2.24zM1271.33 1073.7h2.24V1081.3h-2.24zM1283.18 1081.3h2.24V1092.8h-2.24zM1286.15 1070.5h2.24V1081.3h-2.24zM1309.85 1088.1h2.24V1098.6h-2.24zM1324.67 1085.2h2.24V1096.7h-2.24zM1345.42 1130.3h2.24V1140.8h-2.24zM1351.34 1132.9h2.24V1135.4h-2.24zM1354.31 1128.0h2.24V1131.9h-2.24zM1363.20 1114.6h2.24V1135.4h-2.24zM1366.16 1111.6h2.24V1114.6h-2.24zM1375.05 1138.2h2.24V1144.0h-2.24zM1383.94 1128.0h2.24V1143.4h-2.24zM1404.69 1133.8h2.24V1141.1h-2.24zM1407.65 1128.0h2.24V1134.4h-2.24zM1410.61 1111.4h2.24V1128.7h-2.24zM1413.58 1103.5h2.24V1111.4h-2.24zM1416.54 1096.0h2.24V1104.7h-2.24zM1419.50 1089.6h2.24V1096.7h-2.24zM1425.43 1093.5h2.24V1095.4h-2.24zM1428.39 1090.3h2.24V1094.1h-2.24zM1434.32 1089.0h2.24V1096.7h-2.24zM1437.28 1069.8h2.24V1089.0h-2.24zM1446.17 1052.6h2.24V1081.3h-2.24zM1452.10 1060.5h2.24V1065.1h-2.24zM1463.96 1067.9h2.24V1074.0h-2.24zM1469.88 1076.2h2.24V1088.4h-2.24zM1472.85 1067.9h2.24V1076.6h-2.24zM1478.77 1069.2h2.24V1071.1h-2.24zM1490.63 1080.1h2.24V1083.5h-2.24zM1511.37 1102.6h2.24V1108.7h-2.24zM1514.34 1080.9h2.24V1102.9h-2.24zM1520.26 1085.7h2.24V1088.0h-2.24zM1529.15 1081.5h2.24V1091.8h-2.24zM1535.08 1088.6h2.24V1091.4h-2.24zM1543.97 1104.9h2.24V1107.2h-2.24zM1546.93 1102.9h2.24V1105.8h-2.24zM1552.86 1102.0h2.24V1103.9h-2.24zM1570.64 1109.7h2.24V1111.6h-2.24zM1573.61 1098.2h2.24V1110.6h-2.24zM1576.57 1089.5h2.24V1098.2h-2.24zM1591.39 1107.7h2.24V1117.3h-2.24zM1594.35 1106.8h2.24V1108.7h-2.24zM1600.28 1116.4h2.24V1118.7h-2.24zM1603.24 1105.3h2.24V1117.3h-2.24zM1606.20 1102.9h2.24V1105.3h-2.24zM1609.17 1089.9h2.24V1103.3h-2.24zM1615.09 1008.6h2.24V1102.9h-2.24zM1621.02 1036.8h2.24V1059.8h-2.24zM1626.95 1030.0h2.24V1058.4h-2.24zM1632.88 1006.1h2.24V1036.8h-2.24zM1635.84 955.6h2.24V1006.6h-2.24zM1638.80 929.9h2.24V956.2h-2.24zM1644.73 934.5h2.24V946.0h-2.24zM1650.66 961.4h2.24V971.0h-2.24zM1656.58 972.9h2.24V989.4h-2.24zM1662.51 970.2h2.24V975.4h-2.24zM1665.47 968.7h2.24V975.4h-2.24zM1674.36 968.3h2.24V974.0h-2.24zM1677.33 963.9h2.24V968.3h-2.24zM1683.25 967.1h2.24V976.3h-2.24zM1686.22 953.3h2.24V967.1h-2.24zM1692.14 958.1h2.24V961.4h-2.24zM1698.07 956.2h2.24V968.7h-2.24zM1709.93 1010.5h2.24V1039.3h-2.24zM1715.85 1016.6h2.24V1018.9h-2.24zM1718.82 1010.5h2.24V1016.6h-2.24zM1724.74 1013.7h2.24V1026.2h-2.24zM1727.71 1003.6h2.24V1013.7h-2.24zM1730.67 1002.8h2.24V1004.1h-2.24zM1745.49 1020.5h2.24V1024.3h-2.24zM1748.45 1015.1h2.24V1021.4h-2.24zM1760.31 1055.9h2.24V1058.8h-2.24zM1763.27 1049.6h2.24V1056.5h-2.24zM1769.20 1054.6h2.24V1062.7h-2.24zM1784.01 1034.8h2.24V1056.9h-2.24zM1786.98 1022.0h2.24V1034.8h-2.24zM1789.94 1016.6h2.24V1022.4h-2.24zM1792.90 1015.1h2.24V1017.0h-2.24zM1801.79 1016.6h2.24V1022.0h-2.24zM1810.68 1012.8h2.24V1029.1h-2.24zM1816.61 1002.2h2.24V1010.5h-2.24zM1819.58 992.6h2.24V1003.2h-2.24zM1822.54 956.8h2.24V992.6h-2.24zM1831.43 956.2h2.24V972.5h-2.24zM1837.36 935.7h2.24V958.1h-2.24zM1843.28 957.5h2.24V973.5h-2.24zM1846.25 956.2h2.24V957.5h-2.24zM1849.21 953.7h2.24V956.2h-2.24zM1852.17 941.4h2.24V954.3h-2.24zM1858.10 957.1h2.24V976.3h-2.24zM1861.06 956.2h2.24V957.5h-2.24zM1869.95 1000.9h2.24V1014.3h-2.24zM1875.88 1000.3h2.24V1007.4h-2.24zM1878.85 989.4h2.24V1000.9h-2.24zM1881.81 987.5h2.24V989.8h-2.24zM1887.74 984.0h2.24V987.8h-2.24zM1890.70 982.1h2.24V984.4h-2.24zM1893.66 979.8h2.24V982.5h-2.24zM1911.44 1006.1h2.24V1018.5h-2.24zM1920.33 998.4h2.24V1007.0h-2.24zM1923.30 992.1h2.24V998.4h-2.24zM1938.12 1011.2h2.24V1012.8h-2.24zM1941.08 1010.5h2.24V1011.8h-2.24zM1944.04 1003.6h2.24V1011.2h-2.24zM1952.93 665.3h2.24V1012.4h-2.24zM1958.86 761.5h2.24V767.3h-2.24zM1961.82 735.3h2.24V761.5h-2.24zM1967.75 714.3h2.24V743.5h-2.24zM1970.71 679.6h2.24V714.9h-2.24z" fill="#000"/>
<path d="M6.65 730.0h0.76V763.8h-0.76zM15.54 746.0h0.76V767.6h-0.76zM21.47 731.0h0.76V744.5h-0.76zM24.43 677.2h0.76V684.4h-0.76zM27.40 637.0h0.76V672.9h-0.76zM30.36 444.4h0.76V630.6h-0.76zM36.29 425.8h0.76V522.2h-0.76zM48.14 264.9h0.76V352.8h-0.76zM51.11 220.2h0.76V274.1h-0.76zM54.07 234.2h0.76V288.4h-0.76zM65.92 322.6h0.76V377.6h-0.76zM71.85 294.8h0.76V330.2h-0.76zM74.81 270.1h0.76V300.9h-0.76zM77.78 208.1h0.76V265.6h-0.76zM80.74 182.3h0.76V209.7h-0.76zM83.70 82.0h0.76V167.4h-0.76zM101.49 399.6h0.76V405.9h-0.76zM104.45 360.9h0.76V395.9h-0.76zM119.27 486.6h0.76V607.6h-0.76zM122.23 485.6h0.76V488.9h-0.76zM137.05 538.1h0.76V561.6h-0.76zM140.01 447.2h0.76V534.8h-0.76zM145.94 409.2h0.76V434.2h-0.76zM148.90 402.1h0.76V410.2h-0.76zM163.72 368.6h0.76V381.4h-0.76zM166.68 348.4h0.76V364.2h-0.76zM169.65 325.4h0.76V344.1h-0.76zM172.61 396.4h0.76V415.1h-0.76zM178.54 335.9h0.76V395.9h-0.76zM187.43 386.9h0.76V399.8h-0.76zM190.39 318.4h0.76V383.4h-0.76zM196.32 415.6h0.76V459.1h-0.76zM199.28 396.4h0.76V420.9h-0.76zM205.21 352.2h0.76V381.4h-0.76zM208.17 263.2h0.76V349.9h-0.76zM217.06 209.9h0.76V253.8h-0.76zM225.95 260.4h0.76V292.2h-0.76zM243.73 391.6h0.76V432.4h-0.76zM249.66 423.2h0.76V436.1h-0.76zM255.59 432.9h0.76V445.8h-0.76zM261.51 479.9h0.76V519.4h-0.76zM264.48 478.9h0.76V480.2h-0.76zM276.33 661.0h0.76V686.4h-0.76zM279.30 663.9h0.76V670.0h-0.76zM282.26 615.9h0.76V664.2h-0.76zM294.11 664.8h0.76V703.5h-0.76zM297.08 645.5h0.76V664.2h-0.76zM305.97 614.4h0.76V644.6h-0.76zM308.93 538.8h0.76V609.5h-0.76zM311.89 515.8h0.76V540.5h-0.76zM314.86 472.1h0.76V515.5h-0.76zM320.78 540.6h0.76V556.5h-0.76zM329.67 640.8h0.76V651.8h-0.76zM353.38 709.0h0.76V718.0h-0.76zM356.35 685.0h0.76V713.1h-0.76zM362.27 702.1h0.76V709.4h-0.76zM368.20 725.2h0.76V727.5h-0.76zM380.05 871.8h0.76V877.4h-0.76zM391.91 873.6h0.76V887.5h-0.76zM394.87 873.6h0.76V878.0h-0.76zM397.84 857.0h0.76V872.1h-0.76zM403.76 877.5h0.76V880.5h-0.76zM406.73 843.0h0.76V877.0h-0.76zM409.69 679.1h0.76V807.5h-0.76zM412.65 636.0h0.76V662.4h-0.76zM415.62 584.8h0.76V637.0h-0.76zM424.51 666.1h0.76V702.6h-0.76zM433.40 649.5h0.76V678.6h-0.76zM436.36 635.5h0.76V648.0h-0.76zM442.29 677.2h0.76V704.5h-0.76zM445.25 668.0h0.76V702.6h-0.76zM460.07 776.8h0.76V777.2h-0.76zM463.03 746.0h0.76V775.0h-0.76zM466.00 718.5h0.76V742.6h-0.76zM471.92 712.4h0.76V758.8h-0.76zM474.89 696.0h0.76V709.9h-0.76zM486.74 733.0h0.76V759.8h-0.76zM495.63 752.5h0.76V759.8h-0.76zM498.59 717.1h0.76V759.8h-0.76zM504.52 669.1h0.76V739.5h-0.76zM516.38 701.8h0.76V711.8h-0.76zM519.34 695.0h0.76V708.9h-0.76zM522.30 677.4h0.76V693.5h-0.76zM528.23 660.1h0.76V679.8h-0.76zM534.16 637.1h0.76V669.5h-0.76zM543.05 629.5h0.76V644.6h-0.76zM548.97 648.0h0.76V649.0h-0.76zM551.94 631.4h0.76V645.1h-0.76zM554.90 578.0h0.76V629.2h-0.76zM566.75 648.0h0.76V659.0h-0.76zM572.68 637.5h0.76V647.9h-0.76zM584.54 696.0h0.76V699.2h-0.76zM593.43 711.4h0.76V718.0h-0.76zM602.32 755.5h0.76V780.9h-0.76zM608.24 696.0h0.76V759.8h-0.76zM620.10 710.0h0.76V719.5h-0.76zM664.55 836.8h0.76V873.2h-0.76zM670.48 881.0h0.76V882.9h-0.76zM682.33 969.1h0.76V977.6h-0.76zM688.26 1100.5h0.76V1112.0h-0.76zM691.22 1057.8h0.76V1099.0h-0.76zM697.15 1041.0h0.76V1068.0h-0.76zM703.08 1051.2h0.76V1053.5h-0.76zM714.93 1069.0h0.76V1070.8h-0.76zM717.89 1066.5h0.76V1068.0h-0.76zM735.67 1096.7h0.76V1098.7h-0.76zM741.60 1074.2h0.76V1095.8h-0.76zM744.57 1063.2h0.76V1073.2h-0.76zM750.49 1083.5h0.76V1087.0h-0.76zM756.42 1090.5h0.76V1091.8h-0.76zM759.38 1084.8h0.76V1090.0h-0.76zM762.35 1081.0h0.76V1084.2h-0.76zM765.31 1069.0h0.76V1079.8h-0.76zM789.02 1158.7h0.76V1166.8h-0.76zM800.87 1154.2h0.76V1187.8h-0.76zM806.80 1157.2h0.76V1159.0h-0.76zM812.73 1152.0h0.76V1160.3h-0.76zM815.69 1121.2h0.76V1150.8h-0.76zM818.65 1119.7h0.76V1120.7h-0.76zM821.62 1114.5h0.76V1120.7h-0.76zM842.36 1159.5h0.76V1166.8h-0.76zM848.29 1157.2h0.76V1158.0h-0.76zM851.25 1154.8h0.76V1156.2h-0.76zM854.21 1142.7h0.76V1153.8h-0.76zM857.18 1138.0h0.76V1141.8h-0.76zM872.00 1165.8h0.76V1170.5h-0.76zM874.96 1153.5h0.76V1164.2h-0.76zM877.92 1151.0h0.76V1152.3h-0.76zM880.89 1130.8h0.76V1148.8h-0.76zM886.81 1127.3h0.76V1132.8h-0.76zM889.78 1111.2h0.76V1126.5h-0.76zM895.70 1115.5h0.76V1122.0h-0.76zM901.63 1125.0h0.76V1125.8h-0.76zM904.59 1120.2h0.76V1124.5h-0.76zM913.48 1129.2h0.76V1150.0h-0.76zM916.45 1106.2h0.76V1127.8h-0.76zM922.38 1089.0h0.76V1112.0h-0.76zM940.16 1111.2h0.76V1112.0h-0.76zM943.12 1109.3h0.76V1110.2h-0.76zM946.08 1106.8h0.76V1107.8h-0.76zM949.05 1099.2h0.76V1105.8h-0.76zM954.97 1104.0h0.76V1113.5h-0.76zM957.94 1101.0h0.76V1102.5h-0.76zM972.75 1105.5h0.76V1106.2h-0.76zM975.72 1100.5h0.76V1104.3h-0.76zM987.57 1137.5h0.76V1149.5h-0.76zM993.50 1137.5h0.76V1142.8h-0.76zM996.46 1131.8h0.76V1136.5h-0.76zM1017.21 1151.0h0.76V1152.3h-0.76zM1029.06 1151.0h0.76V1152.0h-0.76zM1037.95 1146.5h0.76V1155.8h-0.76zM1040.91 1140.8h0.76V1145.7h-0.76zM1043.88 1130.5h0.76V1139.2h-0.76zM1046.84 1127.3h0.76V1129.0h-0.76zM1049.81 1123.2h0.76V1125.8h-0.76zM1058.70 1140.3h0.76V1143.7h-0.76zM1064.62 1137.5h0.76V1151.3h-0.76zM1067.59 1109.3h0.76V1136.0h-0.76zM1070.55 1089.0h0.76V1109.2h-0.76zM1076.48 1077.5h0.76V1099.5h-0.76zM1079.44 1074.3h0.76V1075.3h-0.76zM1082.40 1000.5h0.76V1073.8h-0.76zM1085.37 987.0h0.76V999.0h-0.76zM1088.33 978.5h0.76V985.5h-0.76zM1103.15 1004.4h0.76V1039.2h-0.76zM1106.11 999.0h0.76V1002.9h-0.76zM1115.00 1014.9h0.76V1019.8h-0.76zM1117.97 1001.5h0.76V1012.9h-0.76zM1120.93 989.0h0.76V1000.0h-0.76zM1123.89 982.2h0.76V987.1h-0.76zM1126.86 967.0h0.76V980.8h-0.76zM1129.82 962.1h0.76V965.5h-0.76zM1132.78 942.0h0.76V960.2h-0.76zM1168.35 1027.3h0.76V1042.8h-0.76zM1171.31 1015.9h0.76V1026.2h-0.76zM1180.20 1020.6h0.76V1022.0h-0.76zM1183.16 1014.0h0.76V1018.5h-0.76zM1189.09 1010.5h0.76V1012.9h-0.76zM1192.05 1007.9h0.76V1009.0h-0.76zM1200.94 1016.2h0.76V1025.0h-0.76zM1206.87 1025.0h0.76V1025.8h-0.76zM1209.83 981.4h0.76V1023.0h-0.76zM1227.62 1084.7h0.76V1149.0h-0.76zM1239.47 1109.5h0.76V1145.8h-0.76zM1242.43 1094.8h0.76V1108.3h-0.76zM1248.36 1098.8h0.76V1107.8h-0.76zM1251.32 1098.3h0.76V1098.5h-0.76zM1263.18 1105.2h0.76V1125.3h-0.76zM1266.14 1102.5h0.76V1103.7h-0.76zM1269.10 1082.0h0.76V1101.7h-0.76zM1272.07 1074.5h0.76V1080.5h-0.76zM1283.92 1082.0h0.76V1092.0h-0.76zM1286.89 1071.2h0.76V1080.5h-0.76zM1310.59 1088.8h0.76V1097.8h-0.76zM1325.41 1086.0h0.76V1096.0h-0.76zM1346.16 1131.0h0.76V1140.0h-0.76zM1352.08 1133.7h0.76V1134.7h-0.76zM1355.05 1128.8h0.76V1131.2h-0.76zM1363.94 1115.3h0.76V1134.7h-0.76zM1366.90 1112.3h0.76V1113.8h-0.76zM1375.79 1139.0h0.76V1143.2h-0.76zM1384.68 1128.8h0.76V1142.7h-0.76zM1405.43 1134.5h0.76V1140.3h-0.76zM1408.39 1128.8h0.76V1133.7h-0.76zM1411.35 1112.2h0.76V1128.0h-0.76zM1414.32 1104.2h0.76V1110.7h-0.76zM1417.28 1096.8h0.76V1104.0h-0.76zM1420.24 1090.3h0.76V1096.0h-0.76zM1426.17 1094.2h0.76V1094.7h-0.76zM1429.13 1091.0h0.76V1093.3h-0.76zM1435.06 1089.8h0.76V1096.0h-0.76zM1438.02 1070.5h0.76V1088.2h-0.76zM1446.91 1053.3h0.76V1080.5h-0.76zM1452.84 1061.2h0.76V1064.3h-0.76zM1464.70 1068.7h0.76V1073.2h-0.76zM1470.62 1077.0h0.76V1087.7h-0.76zM1473.59 1068.7h0.76V1075.8h-0.76zM1479.51 1070.0h0.76V1070.3h-0.76zM1491.37 1080.8h0.76V1082.8h-0.76zM1512.11 1103.3h0.76V1108.0h-0.76zM1515.07 1081.7h0.76V1102.2h-0.76zM1521.00 1086.5h0.76V1087.2h-0.76zM1529.89 1082.2h0.76V1091.0h-0.76zM1535.82 1089.3h0.76V1090.7h-0.76zM1544.71 1105.7h0.76V1106.5h-0.76zM1547.67 1103.7h0.76V1105.0h-0.76zM1553.60 1102.8h0.76V1103.2h-0.76zM1571.38 1110.5h0.76V1110.8h-0.76zM1574.34 1099.0h0.76V1109.8h-0.76zM1577.31 1090.2h0.76V1097.5h-0.76zM1592.13 1108.5h0.76V1116.5h-0.76zM1595.09 1107.5h0.76V1108.0h-0.76zM1601.02 1117.2h0.76V1118.0h-0.76zM1603.98 1106.0h0.76V1116.5h-0.76zM1606.94 1103.7h0.76V1104.5h-0.76zM1609.91 1090.7h0.76V1102.5h-0.76zM1615.83 1009.4h0.76V1102.2h-0.76zM1621.76 1037.5h0.76V1059.0h-0.76zM1627.69 1030.8h0.76V1057.7h-0.76zM1633.61 1006.9h0.76V1036.0h-0.76zM1636.58 956.4h0.76V1005.9h-0.76zM1639.54 930.6h0.76V955.5h-0.76zM1645.47 935.2h0.76V945.2h-0.76zM1651.40 962.1h0.76V970.2h-0.76zM1657.32 973.6h0.76V988.6h-0.76zM1663.25 971.0h0.76V974.6h-0.76zM1666.21 969.5h0.76V974.6h-0.76zM1675.10 969.0h0.76V973.2h-0.76zM1678.07 964.6h0.76V967.5h-0.76zM1683.99 967.9h0.76V975.5h-0.76zM1686.96 954.0h0.76V966.4h-0.76zM1692.88 958.9h0.76V960.6h-0.76zM1698.81 957.0h0.76V968.0h-0.76zM1710.67 1011.2h0.76V1038.5h-0.76zM1716.59 1017.4h0.76V1018.1h-0.76zM1719.56 1011.2h0.76V1015.9h-0.76zM1725.48 1014.5h0.76V1025.5h-0.76zM1728.45 1004.4h0.76V1013.0h-0.76zM1746.23 1021.2h0.76V1023.5h-0.76zM1749.19 1015.9h0.76V1020.6h-0.76zM1761.05 1056.7h0.76V1058.0h-0.76zM1764.01 1050.3h0.76V1055.8h-0.76zM1769.94 1055.3h0.76V1062.0h-0.76zM1784.75 1035.5h0.76V1056.2h-0.76zM1787.72 1022.8h0.76V1034.0h-0.76zM1790.68 1017.4h0.76V1021.6h-0.76zM1793.64 1015.9h0.76V1016.2h-0.76zM1802.53 1017.4h0.76V1021.2h-0.76zM1811.42 1013.5h0.76V1028.3h-0.76zM1817.35 1003.0h0.76V1009.8h-0.76zM1820.32 993.4h0.76V1002.5h-0.76zM1823.28 957.5h0.76V991.9h-0.76zM1832.17 957.0h0.76V971.8h-0.76zM1838.10 936.5h0.76V957.4h-0.76zM1844.02 958.2h0.76V972.8h-0.76zM1849.95 954.5h0.76V955.5h-0.76zM1852.91 942.1h0.76V953.5h-0.76zM1858.84 957.9h0.76V975.5h-0.76zM1870.69 1001.6h0.76V1013.5h-0.76zM1876.62 1001.0h0.76V1006.6h-0.76zM1879.59 990.1h0.76V1000.1h-0.76zM1882.55 988.2h0.76V989.0h-0.76zM1888.48 984.8h0.76V987.0h-0.76zM1891.44 982.9h0.76V983.6h-0.76zM1894.40 980.5h0.76V981.8h-0.76zM1912.18 1006.9h0.76V1017.8h-0.76zM1921.07 999.1h0.76V1006.2h-0.76zM1924.04 992.9h0.76V997.6h-0.76zM1944.78 1004.4h0.76V1010.5h-0.76zM1953.67 666.0h0.76V1011.6h-0.76zM1959.60 762.2h0.76V766.5h-0.76zM1962.56 736.0h0.76V760.8h-0.76zM1968.49 715.0h0.76V742.8h-0.76zM1971.45 680.4h0.76V714.1h-0.76z" fill="#fff"/>
</g>
<line x1="798.2" y1="1195.3" x2="2472.3" y2="1062.2" stroke="#120c7c" stroke-width="3.5"/>
<rect x="4" y="929.8" width="2468.3" height="2.8" fill="#c8201c"/>
<rect x="2471.7000000000003" y="0" width="1.2" height="1224.85" fill="#505050"/>
<rect x="3" y="1223.75" width="2469.9" height="1.1" fill="#505050"/>
<path d="M1967.8 0H1986.2L1977 9.2z" fill="#bfbfbf"/>
<path d="M5.9 7.8H18.6L12.25 15.4z" fill="#000"/>
<rect x="2472.3" y="23.6" width="2.0" height="1.2" fill="#4a4a4a"/>
<rect x="2472.3" y="95.5" width="2.0" height="1.2" fill="#4a4a4a"/>
<rect x="2472.3" y="167.4" width="2.0" height="1.2" fill="#4a4a4a"/>
<rect x="2472.3" y="239.3" width="2.0" height="1.2" fill="#4a4a4a"/>
<rect x="2472.3" y="311.2" width="2.0" height="1.2" fill="#4a4a4a"/>
<rect x="2472.3" y="383.1" width="2.0" height="1.2" fill="#4a4a4a"/>
<rect x="2472.3" y="455.0" width="2.0" height="1.2" fill="#4a4a4a"/>
<rect x="2472.3" y="526.9" width="2.0" height="1.2" fill="#4a4a4a"/>
<rect x="2472.3" y="598.8" width="2.0" height="1.2" fill="#4a4a4a"/>
<rect x="2472.3" y="670.7" width="2.0" height="1.2" fill="#4a4a4a"/>
<rect x="2472.3" y="742.6" width="2.0" height="1.2" fill="#4a4a4a"/>
<rect x="2472.3" y="814.5" width="2.0" height="1.2" fill="#4a4a4a"/>
<rect x="2472.3" y="886.4" width="2.0" height="1.2" fill="#4a4a4a"/>
<rect x="2472.3" y="958.3" width="2.0" height="1.2" fill="#4a4a4a"/>
<rect x="2472.3" y="1030.2" width="2.0" height="1.2" fill="#4a4a4a"/>
<rect x="2472.3" y="1102.1" width="2.0" height="1.2" fill="#4a4a4a"/>
<rect x="2472.3" y="1174.0" width="2.0" height="1.2" fill="#4a4a4a"/>
<rect x="2473.1" y="665.9" width="74.8" height="23.7" fill="#000"/><rect x="2473.1" y="665.9" width="74.8" height="3.8" fill="#e2571f"/><path d="M2483.4 665.6h1.6v0.9h-1.6zM2498.3 665.6h1.6v0.9h-1.6zM2507.9 665.6h1.6v0.9h-1.6zM2519.2 665.6h1.4v0.9h-1.4zM2529 665.6h1.4v0.9h-1.4zM2536.6 665.6h1.6v0.9h-1.6z" fill="#6b3a22"/>
<rect x="2473.1" y="926.3" width="74.8" height="20.6" fill="#f20a0a"/>
<rect x="3.5" y="1224.3" width="1.2" height="3.6" fill="#4a4a4a"/>
<rect x="145.7" y="1224.3" width="1.2" height="3.6" fill="#4a4a4a"/>
<rect x="288.0" y="1224.3" width="1.2" height="3.6" fill="#4a4a4a"/>
<rect x="430.2" y="1224.3" width="1.2" height="3.6" fill="#4a4a4a"/>
<rect x="572.5" y="1224.3" width="1.2" height="3.6" fill="#4a4a4a"/>
<rect x="714.7" y="1224.3" width="1.2" height="3.6" fill="#4a4a4a"/>
<rect x="857.0" y="1224.3" width="1.2" height="3.6" fill="#4a4a4a"/>
<rect x="999.2" y="1224.3" width="1.2" height="3.6" fill="#4a4a4a"/>
<rect x="1141.5" y="1224.3" width="1.2" height="3.6" fill="#4a4a4a"/>
<rect x="1283.7" y="1224.3" width="1.2" height="3.6" fill="#4a4a4a"/>
<rect x="1426.0" y="1224.3" width="1.2" height="3.6" fill="#4a4a4a"/>
<rect x="1568.2" y="1224.3" width="1.2" height="3.6" fill="#4a4a4a"/>
<rect x="1710.4" y="1224.3" width="1.2" height="3.6" fill="#4a4a4a"/>
<rect x="1852.7" y="1224.3" width="1.2" height="3.6" fill="#4a4a4a"/>
</svg>
<svg width="2560" height="1251" viewBox="0 0 2560 1251" style="will-change:transform;opacity:0.999">
<text x="27.8" y="18.6" textLength="103.2" lengthAdjust="spacingAndGlyphs">XRPUSD,Daily</text>
<text x="142" y="18.6" textLength="61.5" lengthAdjust="spacingAndGlyphs">0.76155</text>
<text x="210" y="18.6" textLength="61.5" lengthAdjust="spacingAndGlyphs">0.81635</text>
<text x="278.3" y="18.6" textLength="61.5" lengthAdjust="spacingAndGlyphs">0.75995</text>
<text x="346.6" y="18.6" textLength="61.5" lengthAdjust="spacingAndGlyphs">0.79635</text>
<text x="2479.9" y="30.6" textLength="61.7" lengthAdjust="spacingAndGlyphs">1.44490</text>
<text x="2479.9" y="102.5" textLength="61.7" lengthAdjust="spacingAndGlyphs">1.37350</text>
<text x="2479.9" y="174.4" textLength="61.7" lengthAdjust="spacingAndGlyphs">1.30210</text>
<text x="2479.9" y="246.3" textLength="61.7" lengthAdjust="spacingAndGlyphs">1.23140</text>
<text x="2479.9" y="318.2" textLength="61.7" lengthAdjust="spacingAndGlyphs">1.16000</text>
<text x="2479.9" y="390.1" textLength="61.7" lengthAdjust="spacingAndGlyphs">1.08860</text>
<text x="2479.9" y="462.0" textLength="61.7" lengthAdjust="spacingAndGlyphs">1.01790</text>
<text x="2479.9" y="533.9" textLength="61.7" lengthAdjust="spacingAndGlyphs">0.94650</text>
<text x="2479.9" y="605.8" textLength="61.7" lengthAdjust="spacingAndGlyphs">0.87580</text>
<text x="2479.9" y="749.6" textLength="61.7" lengthAdjust="spacingAndGlyphs">0.73300</text>
<text x="2479.9" y="821.5" textLength="61.7" lengthAdjust="spacingAndGlyphs">0.66230</text>
<text x="2479.9" y="893.4" textLength="61.7" lengthAdjust="spacingAndGlyphs">0.59090</text>
<text x="2479.9" y="965.3" textLength="61.7" lengthAdjust="spacingAndGlyphs">0.51950</text>
<text x="2479.9" y="1037.2" textLength="61.7" lengthAdjust="spacingAndGlyphs">0.44880</text>
<text x="2479.9" y="1109.1" textLength="61.7" lengthAdjust="spacingAndGlyphs">0.37740</text>
<text x="2479.9" y="1181.0" textLength="61.7" lengthAdjust="spacingAndGlyphs">0.30670</text>
<text x="2479.9" y="686.2" textLength="61.7" lengthAdjust="spacingAndGlyphs" style="fill:#fff;stroke:#fff;stroke-width:0.4">0.79635</text>
<text x="2479.9" y="942.7" textLength="61.7" lengthAdjust="spacingAndGlyphs" style="fill:#fff;stroke:#fff;stroke-width:0.4">0.54750</text>
<text x="3.3" y="1244.1" textLength="88.0" lengthAdjust="spacingAndGlyphs">29 Jul 2021</text>
<text x="145.5" y="1244.1" textLength="83.8" lengthAdjust="spacingAndGlyphs">5 Oct 2021</text>
<text x="287.8" y="1244.1" textLength="96.0" lengthAdjust="spacingAndGlyphs">10 Dec 2021</text>
<text x="430.0" y="1244.1" textLength="94.9" lengthAdjust="spacingAndGlyphs">14 Feb 2022</text>
<text x="572.3" y="1244.1" textLength="84.0" lengthAdjust="spacingAndGlyphs">3 Apr 2022</text>
<text x="714.5" y="1244.1" textLength="98.2" lengthAdjust="spacingAndGlyphs">21 May 2022</text>
<text x="856.8" y="1244.1" textLength="78.6" lengthAdjust="spacingAndGlyphs">8 Jul 2022</text>
<text x="999.0" y="1244.1" textLength="96.8" lengthAdjust="spacingAndGlyphs">25 Aug 2022</text>
<text x="1141.3" y="1244.1" textLength="93.2" lengthAdjust="spacingAndGlyphs">12 Oct 2022</text>
<text x="1283.5" y="1244.1" textLength="96.7" lengthAdjust="spacingAndGlyphs">29 Nov 2022</text>
<text x="1425.8" y="1244.1" textLength="93.2" lengthAdjust="spacingAndGlyphs">16 Jan 2023</text>
<text x="1568.0" y="1244.1" textLength="86.4" lengthAdjust="spacingAndGlyphs">5 Mar 2023</text>
<text x="1710.2" y="1244.1" textLength="93.4" lengthAdjust="spacingAndGlyphs">22 Apr 2023</text>
<text x="1852.5" y="1244.1" textLength="84.3" lengthAdjust="spacingAndGlyphs">9 Jun 2023</text>
</svg></body></html>
